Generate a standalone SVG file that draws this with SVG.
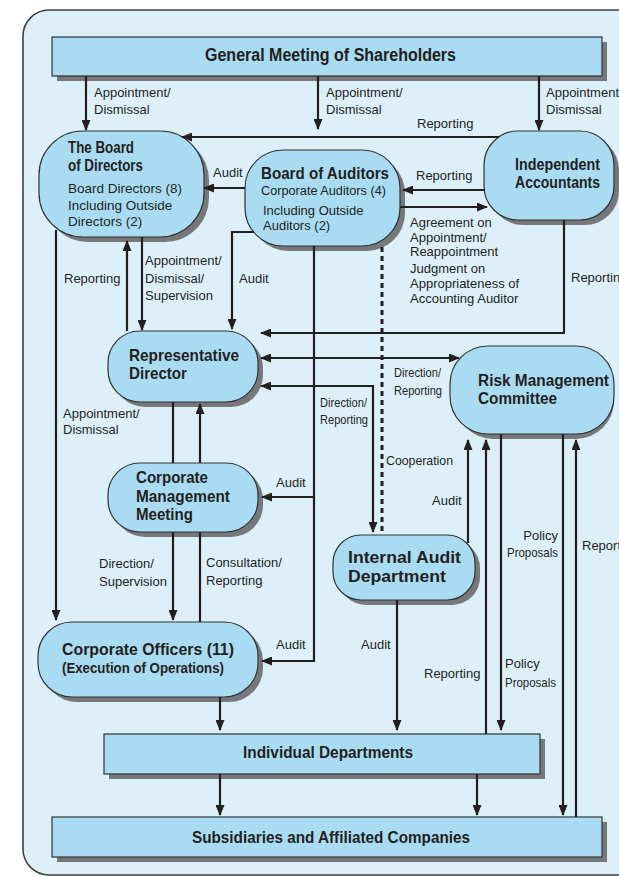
<svg xmlns="http://www.w3.org/2000/svg" width="619" height="877" viewBox="0 0 619 877">
<defs>
<style>
.frame{fill:#DDF0FA;stroke:#404040;stroke-width:1.6}
.box{fill:#A9DCF2;stroke:#333333;stroke-width:1.2}
.sh{fill:#77787B}
.ln{fill:none;stroke:#231F20;stroke-width:2.2}
.a{marker-end:url(#ah)}
.a2{marker-start:url(#ah);marker-end:url(#ah)}
.dot{fill:none;stroke:#231F20;stroke-width:3;stroke-dasharray:5 4}
text{font-family:"Liberation Sans",Arial,Helvetica,sans-serif;fill:#231F20}
.l{font-size:13px}
.b{font-weight:bold}
</style>
<marker id="ah" viewBox="0 0 11 9" refX="10" refY="4.5" markerWidth="11" markerHeight="9" markerUnits="userSpaceOnUse" orient="auto-start-reverse"><path d="M0,0 L11,4.5 L0,9 Z" fill="#231F20"/></marker>
</defs>

<rect class="frame" x="23" y="10" width="640" height="865" rx="26"/>

<g id="general-meeting">
<rect class="sh" x="57" y="42" width="550" height="39"/>
<rect class="box" x="52" y="37" width="550" height="39"/>
<text class="b" x="205" y="61" font-size="18" textLength="251" lengthAdjust="spacingAndGlyphs">General Meeting of Shareholders</text>
</g>

<g id="board-of-directors">
<rect class="sh" x="44" y="136" width="165" height="106" rx="44"/>
<rect class="box" x="39" y="131" width="165" height="106" rx="44"/>
<text class="b" font-size="16"><tspan x="68" y="153" textLength="66" lengthAdjust="spacingAndGlyphs">The Board</tspan><tspan x="68" y="171" textLength="75" lengthAdjust="spacingAndGlyphs">of Directors</tspan></text>
<text font-size="13.5"><tspan x="68" y="193">Board Directors (8)</tspan><tspan x="68" y="210">Including Outside</tspan><tspan x="68" y="226">Directors (2)</tspan></text>
</g>

<g id="board-of-auditors">
<rect class="sh" x="250" y="155" width="155" height="96" rx="38"/>
<rect class="box" x="245" y="150" width="155" height="96" rx="38"/>
<text class="b" x="261" y="179" font-size="16" textLength="128" lengthAdjust="spacingAndGlyphs">Board of Auditors</text>
<text font-size="13"><tspan x="261" y="195" textLength="125" lengthAdjust="spacingAndGlyphs">Corporate Auditors (4)</tspan><tspan x="263" y="215">Including Outside</tspan><tspan x="263" y="230">Auditors (2)</tspan></text>
</g>

<g id="independent-accountants">
<rect class="sh" x="489" y="136" width="130" height="89" rx="34"/>
<rect class="box" x="484" y="131" width="130" height="89" rx="34"/>
<text class="b" font-size="16"><tspan x="515" y="170" textLength="85" lengthAdjust="spacingAndGlyphs">Independent</tspan><tspan x="515" y="188" textLength="85" lengthAdjust="spacingAndGlyphs">Accountants</tspan></text>
</g>

<g id="representative-director">
<rect class="sh" x="113" y="336" width="150" height="71" rx="32"/>
<rect class="box" x="108" y="331" width="150" height="71" rx="32"/>
<text class="b" font-size="17"><tspan x="129" y="361" textLength="110" lengthAdjust="spacingAndGlyphs">Representative</tspan><tspan x="129" y="379" textLength="58" lengthAdjust="spacingAndGlyphs">Director</tspan></text>
</g>

<g id="risk-management-committee">
<rect class="sh" x="455" y="351" width="159" height="88" rx="38"/>
<rect class="box" x="450" y="346" width="164" height="88" rx="38"/>
<text class="b" font-size="16"><tspan x="478" y="386" textLength="131" lengthAdjust="spacingAndGlyphs">Risk Management</tspan><tspan x="478" y="404" textLength="79" lengthAdjust="spacingAndGlyphs">Committee</tspan></text>
</g>

<g id="corporate-management-meeting">
<rect class="sh" x="113" y="468" width="150" height="69" rx="32"/>
<rect class="box" x="108" y="463" width="150" height="69" rx="32"/>
<text class="b" font-size="17"><tspan x="136" y="483" textLength="72" lengthAdjust="spacingAndGlyphs">Corporate</tspan><tspan x="136" y="502" textLength="94" lengthAdjust="spacingAndGlyphs">Management</tspan><tspan x="136" y="520" textLength="57" lengthAdjust="spacingAndGlyphs">Meeting</tspan></text>
</g>

<g id="internal-audit-department">
<rect class="sh" x="338" y="540" width="142" height="65" rx="28"/>
<rect class="box" x="333" y="535" width="142" height="65" rx="28"/>
<text class="b" font-size="17"><tspan x="348" y="563" textLength="113" lengthAdjust="spacingAndGlyphs">Internal Audit</tspan><tspan x="348" y="582" textLength="98" lengthAdjust="spacingAndGlyphs">Department</tspan></text>
</g>

<g id="corporate-officers">
<rect class="sh" x="43" y="627" width="220" height="75" rx="34"/>
<rect class="box" x="38" y="622" width="220" height="75" rx="34"/>
<text class="b" x="62" y="655" font-size="17" textLength="172" lengthAdjust="spacingAndGlyphs">Corporate Officers (11)</text>
<text class="b" x="62" y="673" font-size="14" textLength="162" lengthAdjust="spacingAndGlyphs">(Execution of Operations)</text>
</g>

<g id="individual-departments">
<rect class="sh" x="109" y="739" width="436" height="40"/>
<rect class="box" x="104" y="734" width="436" height="40"/>
<text class="b" x="243" y="758" font-size="16" textLength="170" lengthAdjust="spacingAndGlyphs">Individual Departments</text>
</g>

<g id="subsidiaries">
<rect class="sh" x="57" y="822" width="550" height="40"/>
<rect class="box" x="52" y="817" width="550" height="40"/>
<text class="b" x="192" y="843" font-size="16" textLength="278" lengthAdjust="spacingAndGlyphs">Subsidiaries and Affiliated Companies</text>
</g>

<g id="connectors">
<path class="ln a" d="M86,76 V130"/>
<path class="ln a" d="M318,76 V129"/>
<path class="ln a" d="M539,76 V130"/>
<path class="ln a" d="M499,137 H182"/>
<path class="ln a" d="M245,188 H204"/>
<path class="ln a" d="M485,190 H403"/>
<path class="ln a" d="M400,207 H487"/>
<path class="ln a" d="M564,220 V333 H261"/>
<path class="ln a" d="M142,237 V330"/>
<path class="ln a" d="M127,331 V241"/>
<path class="ln a" d="M56,230 V620"/>
<path class="ln a" d="M254,232 H232 V329"/>
<path class="ln a" d="M314,246 V661 H262"/>
<path class="ln a" d="M314,497 H262"/>
<path class="ln a2" d="M261,358 H459"/>
<path class="ln a2" d="M261,386 H373 V532"/>
<path class="dot" d="M382,247 V535"/>
<path class="ln" d="M173,402 V463"/>
<path class="ln a" d="M173,532 V620"/>
<path class="ln a" d="M200,463 V404"/>
<path class="ln" d="M200,622 V532"/>
<path class="ln a" d="M220,697 V730"/>
<path class="ln a" d="M397,600 V730"/>
<path class="ln a" d="M468,543 V440"/>
<path class="ln a" d="M486,734 V440"/>
<path class="ln a" d="M501,434 V730"/>
<path class="ln a" d="M563,434 V815"/>
<path class="ln a" d="M576,817 V440"/>
<path class="ln a" d="M220,774 V815"/>
<path class="ln a" d="M477,774 V815"/>
</g>

<g id="labels" class="l">
<text x="94" y="97">Appointment/</text><text x="94" y="114">Dismissal</text>
<text x="326" y="97">Appointment/</text><text x="326" y="114">Dismissal</text>
<text x="546" y="97">Appointment/</text><text x="546" y="114">Dismissal</text>
<text x="417" y="128">Reporting</text>
<text x="213" y="177">Audit</text>
<text x="416" y="180">Reporting</text>
<text x="410" y="227">Agreement on</text>
<text x="410" y="242">Appointment/</text>
<text x="410" y="256">Reappointment</text>
<text x="410" y="273">Judgment on</text>
<text x="410" y="288">Appropriateness of</text>
<text x="410" y="303">Accounting Auditor</text>
<text x="64" y="283">Reporting</text>
<text x="145" y="265">Appointment/</text><text x="145" y="283">Dismissal/</text><text x="145" y="300">Supervision</text>
<text x="239" y="283">Audit</text>
<text x="571" y="282">Reporting</text>
<text x="63" y="418">Appointment/</text><text x="63" y="434">Dismissal</text>
<text x="394" y="377" textLength="47" lengthAdjust="spacingAndGlyphs">Direction/</text><text x="394" y="395" textLength="48" lengthAdjust="spacingAndGlyphs">Reporting</text>
<text x="320" y="407" textLength="47" lengthAdjust="spacingAndGlyphs">Direction/</text><text x="320" y="424" textLength="48" lengthAdjust="spacingAndGlyphs">Reporting</text>
<text x="386" y="465" textLength="67" lengthAdjust="spacingAndGlyphs">Cooperation</text>
<text x="276" y="487">Audit</text>
<text x="432" y="505">Audit</text>
<text x="558" y="540" text-anchor="end">Policy</text><text x="558" y="557" text-anchor="end" textLength="51" lengthAdjust="spacingAndGlyphs">Proposals</text>
<text x="582" y="550">Reporting</text>
<text x="99" y="568">Direction/</text><text x="99" y="586">Supervision</text>
<text x="206" y="567">Consultation/</text><text x="206" y="585">Reporting</text>
<text x="276" y="649">Audit</text>
<text x="361" y="649">Audit</text>
<text x="424" y="678">Reporting</text>
<text x="505" y="668">Policy</text><text x="505" y="687" textLength="51" lengthAdjust="spacingAndGlyphs">Proposals</text>
</g>
</svg>
